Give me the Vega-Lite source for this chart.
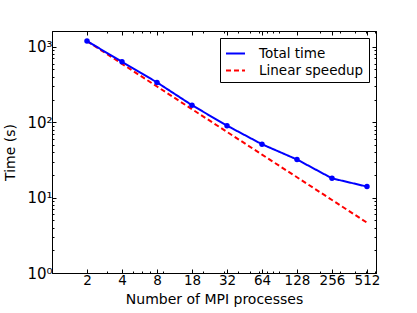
{
  "$schema": "https://vega.github.io/schema/vega-lite/v6.json",
  "width": 324,
  "height": 242,
  "autosize": "none",
  "padding": {"left": 52, "top": 31, "right": 41, "bottom": 40},
  "background": "white",
  "config": {
    "font": "DejaVu Sans",
    "view": {"stroke": "black", "strokeWidth": 1},
    "axis": {"grid": false, "domainColor": "black", "tickColor": "black", "labelFont": "DejaVu Sans", "titleFont": "DejaVu Sans", "labelFontSize": 13.5, "titleFontSize": 14, "titleFontWeight": "normal", "labelColor": "black", "titleColor": "black"}
  },
  "data": {
    "values": [
      {"n": 2, "time": 1190, "series": "Total time"},
      {"n": 4, "time": 632, "series": "Total time"},
      {"n": 8, "time": 337, "series": "Total time"},
      {"n": 16, "time": 168, "series": "Total time"},
      {"n": 32, "time": 90, "series": "Total time"},
      {"n": 64, "time": 51, "series": "Total time"},
      {"n": 128, "time": 32, "series": "Total time"},
      {"n": 256, "time": 18, "series": "Total time"},
      {"n": 512, "time": 14, "series": "Total time"},
      {"n": 2, "time": 1190, "series": "Linear speedup"},
      {"n": 4, "time": 595, "series": "Linear speedup"},
      {"n": 8, "time": 297.5, "series": "Linear speedup"},
      {"n": 16, "time": 148.75, "series": "Linear speedup"},
      {"n": 32, "time": 74.4, "series": "Linear speedup"},
      {"n": 64, "time": 37.2, "series": "Linear speedup"},
      {"n": 128, "time": 18.6, "series": "Linear speedup"},
      {"n": 256, "time": 9.3, "series": "Linear speedup"},
      {"n": 512, "time": 4.65, "series": "Linear speedup"}
    ]
  },
  "encoding": {
    "color": {
      "field": "series", "type": "nominal",
      "scale": {"domain": ["Total time", "Linear speedup"], "range": ["#0000ff", "#ff0000"]},
      "legend": {
        "title": null, "orient": "top-right", "offset": 7,
        "symbolType": "stroke", "symbolSize": 361, "symbolStrokeWidth": 2,
        "labelFontSize": 13.5, "labelFont": "DejaVu Sans", "labelColor": "black",
        "labelOffset": 13, "rowPadding": 0,
        "strokeColor": "black", "fillColor": "white", "padding": 5, "cornerRadius": 0
      }
    },
    "strokeDash": {
      "field": "series", "type": "nominal",
      "scale": {"domain": ["Total time", "Linear speedup"], "range": [[1, 0], [5, 3]]},
      "legend": null
    }
  },
  "layer": [
    {
      "transform": [{"filter": "datum.series == 'Linear speedup'"}],
      "mark": {"type": "line", "strokeWidth": 2},
      "encoding": {
        "x": {
          "field": "n", "type": "quantitative",
          "scale": {"type": "log", "domain": [1, 612], "nice": false},
          "title": "Number of MPI processes",
          "axis": {
            "orient": "bottom",
            "values": [2, 3, 4, 5, 6, 7, 8, 9, 16, 20, 30, 32, 40, 50, 60, 64, 70, 80, 90, 128, 200, 256, 300, 400, 500, 512, 600],
            "labelExpr": "indexof([2,4,8,16,32,64,128,256,512], datum.value) >= 0 ? (datum.value == 16 ? '18' : format(datum.value, 'd')) : ''",
            "tickSize": {"condition": {"test": "indexof([2,4,8,16,32,64,128,256,512], datum.value) >= 0", "value": -4}, "value": -2},
            "labelPadding": 4, "labelFlush": false, "labelOverlap": false, "titlePadding": 4
          }
        },
        "y": {
          "field": "time", "type": "quantitative",
          "scale": {"type": "log", "domain": [1, 1620], "nice": false},
          "title": "Time (s)",
          "axis": {
            "orient": "left",
            "values": [1, 2, 3, 4, 5, 6, 7, 8, 9, 10, 20, 30, 40, 50, 60, 70, 80, 90, 100, 200, 300, 400, 500, 600, 700, 800, 900, 1000],
            "labelExpr": "datum.value == 1 ? '10⁰' : datum.value == 10 ? '10¹' : datum.value == 100 ? '10²' : datum.value == 1000 ? '10³' : ''",
            "labelFontSize": 15,
            "tickSize": {"condition": {"test": "indexof([1,10,100,1000], datum.value) >= 0", "value": -4}, "value": -2},
            "labelPadding": 4, "labelFlush": false, "labelOverlap": false, "titlePadding": 9
          }
        }
      }
    },
    {
      "transform": [{"filter": "datum.series == 'Total time'"}],
      "mark": {"type": "line", "strokeWidth": 2, "point": {"filled": true, "size": 30}},
      "encoding": {
        "x": {
          "field": "n", "type": "quantitative",
          "axis": {
            "orient": "top", "title": null, "labels": false,
            "values": [2, 3, 4, 5, 6, 7, 8, 9, 16, 20, 30, 32, 40, 50, 60, 64, 70, 80, 90, 128, 200, 256, 300, 400, 500, 512, 600],
            "tickSize": {"condition": {"test": "indexof([2,4,8,16,32,64,128,256,512], datum.value) >= 0", "value": -4}, "value": -2}
          }
        },
        "y": {
          "field": "time", "type": "quantitative",
          "axis": {
            "orient": "right", "title": null, "labels": false,
            "values": [1, 2, 3, 4, 5, 6, 7, 8, 9, 10, 20, 30, 40, 50, 60, 70, 80, 90, 100, 200, 300, 400, 500, 600, 700, 800, 900, 1000],
            "tickSize": {"condition": {"test": "indexof([1,10,100,1000], datum.value) >= 0", "value": -4}, "value": -2}
          }
        }
      }
    }
  ],
  "resolve": {"axis": {"x": "independent", "y": "independent"}}
}
